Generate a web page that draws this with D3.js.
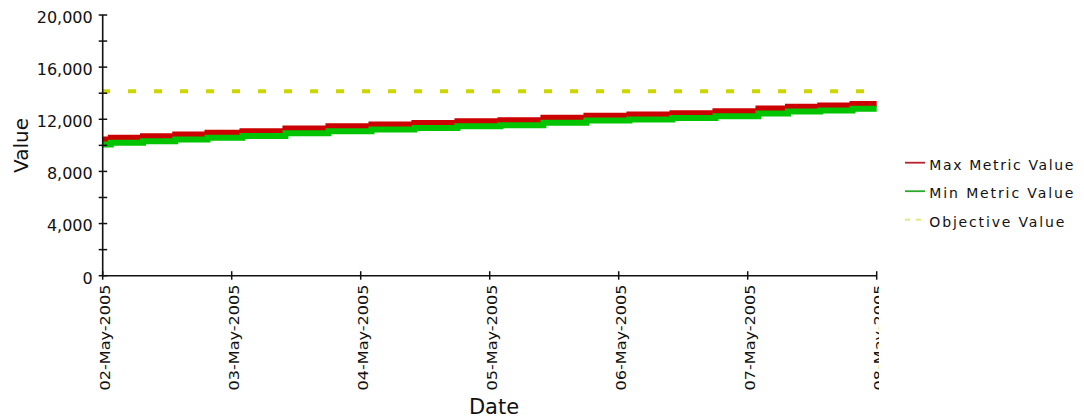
<!DOCTYPE html>
<html><head><meta charset="utf-8">
<script src="https://cdn.jsdelivr.net/npm/d3@7"></script>
<style>body{margin:0;background:#fff;} svg{display:block;font-family:"DejaVu Sans",sans-serif;}</style>
</head><body>
<svg id="chart" width="1084" height="419"></svg>
<script>
// ---- data ----
const times = ["2005-05-02 00:00","2005-05-02 01:30","2005-05-02 07:30","2005-05-02 13:30","2005-05-02 19:30",
  "2005-05-03 02:00","2005-05-03 10:00","2005-05-03 18:00","2005-05-04 02:00","2005-05-04 10:00","2005-05-04 18:00",
  "2005-05-05 02:00","2005-05-05 10:00","2005-05-05 18:00","2005-05-06 02:00","2005-05-06 10:00","2005-05-06 18:00",
  "2005-05-07 02:00","2005-05-07 07:30","2005-05-07 13:30","2005-05-07 19:30","2005-05-08 00:00"];
const maxValues = [10450,10580,10700,10830,10960,11090,11300,11470,11590,11720,11840,11930,12110,12280,12360,12470,12620,12820,12970,13050,13180,13180];
const minValues = [10070,10200,10320,10450,10580,10710,10920,11090,11210,11340,11460,11550,11730,11900,11980,12090,12240,12440,12590,12670,12800,12800];
const objectiveValue = 14150;
const dateStart = "2005-05-02 00:00";
const dateEnd = "2005-05-08 00:00";
const yMajorTicks = [0,4000,8000,12000,16000,20000];
const yMinorTicks = [2000,6000,10000,14000,18000];
const seriesNames = ["Max Metric Value","Min Metric Value","Objective Value"];
const xTitle = "Date", yTitle = "Value";

// ---- layout ----
const parse = d3.timeParse("%Y-%m-%d %H:%M");
const svg = d3.select("#chart");
const x = d3.scaleTime().domain([parse(dateStart), parse(dateEnd)]).range([102.7, 876.7]);
const y = d3.scaleLinear().domain([0, 20000]).range([275.7, 15]);
const colors = {max:"#cc0000", min:"#00c400", obj:"#cdd600"};

const pts = times.map((t,i)=>({t:parse(t), max:maxValues[i], min:minValues[i]}));

// objective dashed line
svg.append("line")
  .attr("x1", x.range()[0]-0.7).attr("x2", x.range()[1])
  .attr("y1", y(objectiveValue)).attr("y2", y(objectiveValue))
  .attr("stroke", colors.obj).attr("stroke-width", 3.8).attr("stroke-dasharray","8,18");

// series
const lineMax = d3.line().curve(d3.curveStepAfter).x(d=>x(d.t)).y(d=>y(d.max));
const lineMin = d3.line().curve(d3.curveStepAfter).x(d=>x(d.t)).y(d=>y(d.min));
svg.append("path").datum(pts).attr("d", lineMax).attr("fill","none")
  .attr("stroke", colors.max).attr("stroke-width", 6);
svg.append("path").datum(pts).attr("d", lineMin).attr("fill","none")
  .attr("stroke", colors.min).attr("stroke-width", 6);

// axes
const axisColor = "#111";
svg.append("line").attr("x1", x.range()[0]).attr("x2", x.range()[0])
  .attr("y1", y(20000)).attr("y2", y(0)).attr("stroke", axisColor).attr("stroke-width", 1.6);
svg.append("line").attr("x1", x.range()[0]).attr("x2", x.range()[1])
  .attr("y1", y(0)).attr("y2", y(0)).attr("stroke", axisColor).attr("stroke-width", 1.6);

svg.selectAll(".yt").data(yMajorTicks.concat(yMinorTicks)).enter().append("line")
  .attr("x1", x.range()[0]-4).attr("x2", x.range()[0]+4.5)
  .attr("y1", d=>y(d)).attr("y2", d=>y(d)).attr("stroke", axisColor).attr("stroke-width", 1.5);
const fmt = d3.format(",");
svg.selectAll(".yl").data(yMajorTicks).enter().append("text")
  .attr("x", 92.7).attr("y", d=>y(d)+7.8).attr("text-anchor","end")
  .attr("font-size", 16).attr("fill","#111").text(d=>fmt(d));

const xTicks = d3.timeDay.range(parse(dateStart), d3.timeDay.offset(parse(dateEnd),1));
svg.selectAll(".xt").data(xTicks).enter().append("line")
  .attr("x1", d=>x(d)).attr("x2", d=>x(d))
  .attr("y1", y(0)-4.5).attr("y2", y(0)+4).attr("stroke", axisColor).attr("stroke-width", 1.5);

svg.append("clipPath").attr("id","xclip").append("rect")
  .attr("x",0).attr("y",0).attr("width",879).attr("height",419);
const dfmt = d3.timeFormat("%d-%b-%Y");
svg.append("g").attr("clip-path","url(#xclip)")
  .selectAll("text").data(xTicks).enter().append("text")
  .attr("transform", d=>`translate(${x(d)+7.6},284.5) rotate(-90)`)
  .attr("text-anchor","end").attr("font-size", 14.5).attr("fill","#111")
  .attr("textLength", 106).attr("lengthAdjust","spacingAndGlyphs")
  .text(d=>dfmt(d));

// axis titles
svg.append("text").attr("transform","translate(27.5,145.5) rotate(-90)")
  .attr("text-anchor","middle").attr("font-size",20).attr("fill","#111").text(yTitle);
svg.append("text").attr("x",494).attr("y",413.5)
  .attr("text-anchor","middle").attr("font-size",21).attr("fill","#111").text(xTitle);

// legend
const legendY = [162.7, 191.2, 219.7];
const legendLen = [144, 144, 135];
const legendColors = ["#b8202c", "#2aa82a", "#e2e27a"];
const lg = svg.append("g");
seriesNames.forEach((name,i)=>{
  const l = lg.append("line").attr("x1",905).attr("x2",925)
    .attr("y1",legendY[i]).attr("y2",legendY[i])
    .attr("stroke",legendColors[i]).attr("stroke-width",1.8);
  if(i===2) l.attr("stroke-dasharray","5,6");
  lg.append("text").attr("x",929.3).attr("y",legendY[i]+7.2)
    .attr("font-size",14).attr("textLength",legendLen[i]).attr("lengthAdjust","spacing")
    .attr("fill","#111").text(name);
});
</script>
</body></html>
